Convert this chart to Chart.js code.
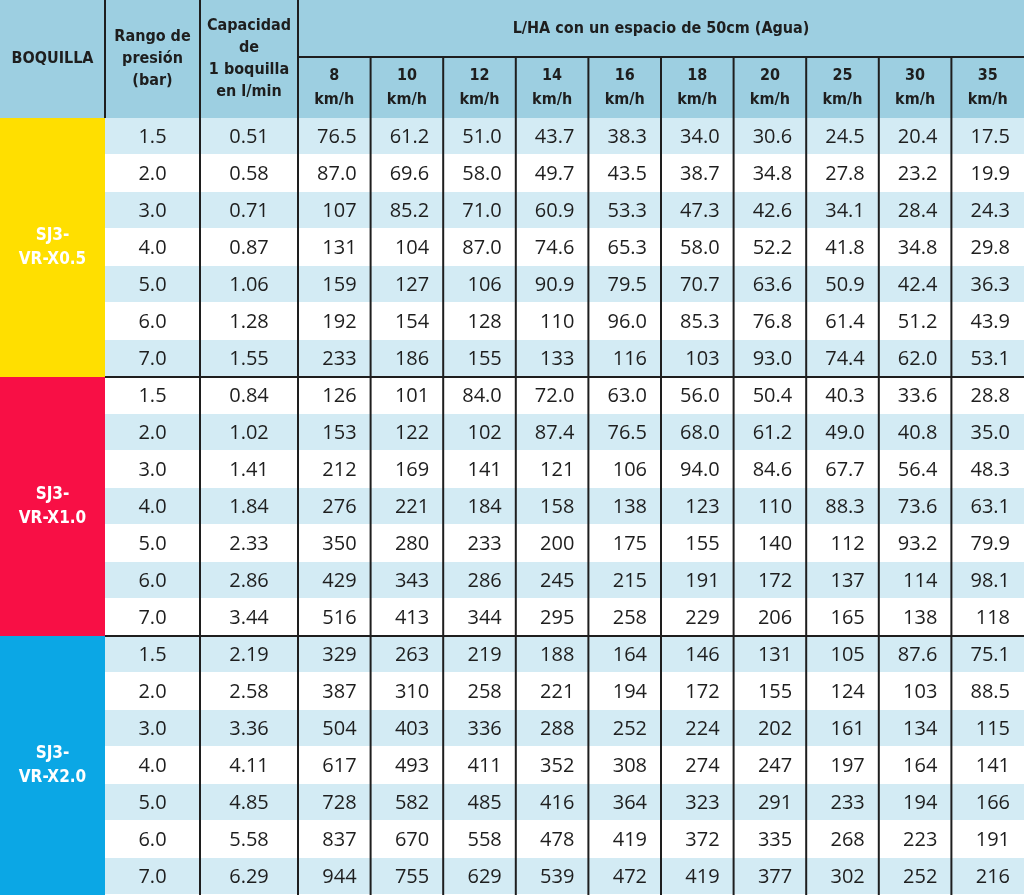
<!DOCTYPE html>
<html>
<head>
<meta charset="utf-8">
<script src="https://cdn.jsdelivr.net/npm/chart.js@4"></script>
<style>
  html, body { margin: 0; padding: 0; background: #fff; }
  canvas { display: block; }
</style>
</head>
<body>
<canvas id="tableChart" width="1024" height="895"></canvas>
<script>
// table data
const boquillas = ['SJ3-\nVR-X0.5', 'SJ3-\nVR-X1.0', 'SJ3-\nVR-X2.0'];
const groupColors = ['#ffdf00', '#f80f45', '#0ba7e5'];
const presiones = ['1.5', '2.0', '3.0', '4.0', '5.0', '6.0', '7.0'];
const capacidades = [
    ['0.51', '0.58', '0.71', '0.87', '1.06', '1.28', '1.55'],
    ['0.84', '1.02', '1.41', '1.84', '2.33', '2.86', '3.44'],
    ['2.19', '2.58', '3.36', '4.11', '4.85', '5.58', '6.29']
];
const velocidades = ['8', '10', '12', '14', '16', '18', '20', '25', '30', '35'];
const valores = [
    // SJ3-VR-X0.5
    ['76.5', '61.2', '51.0', '43.7', '38.3', '34.0', '30.6', '24.5', '20.4', '17.5'],
    ['87.0', '69.6', '58.0', '49.7', '43.5', '38.7', '34.8', '27.8', '23.2', '19.9'],
    ['107', '85.2', '71.0', '60.9', '53.3', '47.3', '42.6', '34.1', '28.4', '24.3'],
    ['131', '104', '87.0', '74.6', '65.3', '58.0', '52.2', '41.8', '34.8', '29.8'],
    ['159', '127', '106', '90.9', '79.5', '70.7', '63.6', '50.9', '42.4', '36.3'],
    ['192', '154', '128', '110', '96.0', '85.3', '76.8', '61.4', '51.2', '43.9'],
    ['233', '186', '155', '133', '116', '103', '93.0', '74.4', '62.0', '53.1'],
    // SJ3-VR-X1.0
    ['126', '101', '84.0', '72.0', '63.0', '56.0', '50.4', '40.3', '33.6', '28.8'],
    ['153', '122', '102', '87.4', '76.5', '68.0', '61.2', '49.0', '40.8', '35.0'],
    ['212', '169', '141', '121', '106', '94.0', '84.6', '67.7', '56.4', '48.3'],
    ['276', '221', '184', '158', '138', '123', '110', '88.3', '73.6', '63.1'],
    ['350', '280', '233', '200', '175', '155', '140', '112', '93.2', '79.9'],
    ['429', '343', '286', '245', '215', '191', '172', '137', '114', '98.1'],
    ['516', '413', '344', '295', '258', '229', '206', '165', '138', '118'],
    // SJ3-VR-X2.0
    ['329', '263', '219', '188', '164', '146', '131', '105', '87.6', '75.1'],
    ['387', '310', '258', '221', '194', '172', '155', '124', '103', '88.5'],
    ['504', '403', '336', '288', '252', '224', '202', '161', '134', '115'],
    ['617', '493', '411', '352', '308', '274', '247', '197', '164', '141'],
    ['728', '582', '485', '416', '364', '323', '291', '233', '194', '166'],
    ['837', '670', '558', '478', '419', '372', '335', '268', '223', '191'],
    ['944', '755', '629', '539', '472', '419', '377', '302', '252', '216']
];
const headerLeft = ['BOQUILLA', 'Rango de\npresión\n(bar)', 'Capacidad\nde\n1 boquilla\nen l/min'];
const headerTitle = 'L/HA con un espacio de 50cm (Agua)';

// layout in scale units
const colEdges = [0, 105, 200, 298];
for (let i = 1; i <= velocidades.length; i++) colEdges.push(298 + i * 72.6);
const rowEdges = [0, 57, 118];
for (let i = 1; i <= valores.length; i++) rowEdges.push(118 + i * 37);

const HEADER_BG = '#9dcfe1';
const ROW_LIGHT = '#d3ebf4';
const LINE = '#1e1e1e';
const TEXT = '#1e1e1e';
const HEAD_FONT = 'bold 16px "Liberation Sans Narrow", "DejaVu Sans Condensed", sans-serif';
const CELL_FONT = '20px "Open Sans", "Liberation Sans", sans-serif';

const tablePlugin = {
    id: 'tablePlugin',
    afterDraw(chart) {
        const ctx = chart.ctx;
        const xs = chart.scales.x, ys = chart.scales.y;
        const X = v => xs.getPixelForValue(v);
        const Y = v => ys.getPixelForValue(v);
        const nCols = colEdges.length - 1;
        ctx.save();

        const lines = (txt, cx, cy, lh, align) => {
            const parts = txt.split('\n');
            parts.forEach((p, i) => {
                ctx.textAlign = align;
                ctx.fillText(p, cx, cy + (i - (parts.length - 1) / 2) * lh);
            });
        };

        // header background
        ctx.fillStyle = HEADER_BG;
        ctx.fillRect(X(0), Y(0), X(colEdges[nCols]) - X(0), Y(rowEdges[2]) - Y(0));

        // data rows
        valores.forEach((row, r) => {
            const y0 = Y(rowEdges[r + 2]), y1 = Y(rowEdges[r + 3]);
            ctx.fillStyle = r % 2 === 0 ? ROW_LIGHT : '#ffffff';
            ctx.fillRect(X(colEdges[1]), y0, X(colEdges[nCols]) - X(colEdges[1]), y1 - y0);
            ctx.fillStyle = '#ffffff';
            ctx.fillRect(X(colEdges[1]), y1 - 1, X(colEdges[nCols]) - X(colEdges[1]), 2);
        });

        // group blocks
        boquillas.forEach((b, g) => {
            const y0 = Y(rowEdges[2 + g * 7]), y1 = Y(rowEdges[2 + (g + 1) * 7]);
            ctx.fillStyle = groupColors[g];
            ctx.fillRect(X(0), y0, X(colEdges[1]) - X(0), y1 - y0);
            ctx.fillStyle = '#ffffff';
            ctx.font = 'bold 17px "Liberation Sans Narrow", "DejaVu Sans Condensed", sans-serif';
            ctx.textBaseline = 'middle';
            lines(b, X(colEdges[1]) / 2, (y0 + y1) / 2, 24, 'center');
        });

        // header text
        ctx.fillStyle = TEXT;
        ctx.font = HEAD_FONT;
        ctx.textBaseline = 'middle';
        const hMid = (Y(0) + Y(rowEdges[2])) / 2;
        lines(headerLeft[0], (X(colEdges[0]) + X(colEdges[1])) / 2, hMid, 22, 'center');
        lines(headerLeft[1], (X(colEdges[1]) + X(colEdges[2])) / 2, hMid, 22, 'center');
        lines(headerLeft[2], (X(colEdges[2]) + X(colEdges[3])) / 2, hMid, 22, 'center');
        lines(headerTitle, (X(colEdges[3]) + X(colEdges[nCols])) / 2, (Y(0) + Y(rowEdges[1])) / 2, 22, 'center');
        velocidades.forEach((v, i) => {
            const cx = (X(colEdges[3 + i]) + X(colEdges[4 + i])) / 2;
            lines(v + '\nkm/h', cx, (Y(rowEdges[1]) + Y(rowEdges[2])) / 2, 24, 'center');
        });

        // cell text
        ctx.font = CELL_FONT;
        valores.forEach((row, r) => {
            const cy = (Y(rowEdges[r + 2]) + Y(rowEdges[r + 3])) / 2 + 1;
            const g = Math.floor(r / 7);
            ctx.textAlign = 'center';
            ctx.fillText(presiones[r % 7], (X(colEdges[1]) + X(colEdges[2])) / 2, cy);
            ctx.fillText(capacidades[g][r % 7], (X(colEdges[2]) + X(colEdges[3])) / 2, cy);
            ctx.textAlign = 'right';
            row.forEach((v, c) => ctx.fillText(v, X(colEdges[4 + c]) - 14, cy));
        });

        // dark grid lines
        ctx.strokeStyle = LINE;
        ctx.lineWidth = 2;
        ctx.beginPath();
        ctx.moveTo(X(colEdges[1]), Y(0));
        ctx.lineTo(X(colEdges[1]), Y(rowEdges[2]));
        for (let c = 2; c < nCols; c++) {
            const top = c <= 3 ? Y(0) : Y(rowEdges[1]);
            ctx.moveTo(X(colEdges[c]), top);
            ctx.lineTo(X(colEdges[c]), Y(rowEdges[rowEdges.length - 1]));
        }
        ctx.moveTo(X(colEdges[3]), Y(rowEdges[1]));
        ctx.lineTo(X(colEdges[nCols]), Y(rowEdges[1]));
        [9, 16].forEach(ri => {
            ctx.moveTo(X(colEdges[1]), Y(rowEdges[ri]));
            ctx.lineTo(X(colEdges[nCols]), Y(rowEdges[ri]));
        });
        ctx.stroke();
        ctx.restore();
    }
};

new Chart(document.getElementById('tableChart'), {
    type: 'scatter',
    data: { datasets: [{ data: [] }] },
    options: {
        responsive: false,
        maintainAspectRatio: false,
        animation: false,
        layout: { padding: 0 },
        plugins: { legend: { display: false }, tooltip: { enabled: false } },
        scales: {
            x: { type: 'linear', display: false, min: 0, max: colEdges[colEdges.length - 1] },
            y: { type: 'linear', display: false, reverse: true, min: 0, max: rowEdges[rowEdges.length - 1] }
        }
    },
    plugins: [tablePlugin]
});
</script>
</body>
</html>
